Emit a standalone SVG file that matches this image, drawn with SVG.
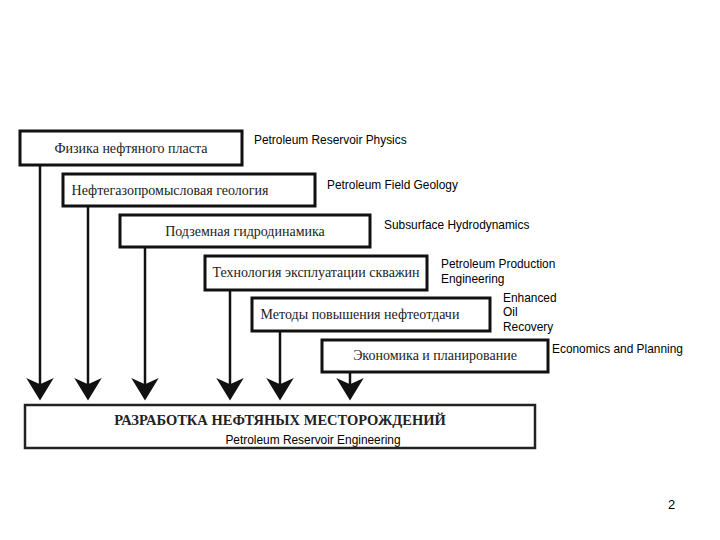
<svg xmlns="http://www.w3.org/2000/svg" width="720" height="540" viewBox="0 0 720 540">
<defs>
<style>
.box{fill:#fff;stroke:#111;stroke-width:3}
.ru{font-family:"Liberation Serif","DejaVu Serif",serif;font-size:14px;fill:#222;text-anchor:middle}
.en{font-family:"Liberation Sans",Arial,sans-serif;font-size:11.9px;fill:#000}
.ln{stroke:#111;stroke-width:2.5;fill:none}
</style>
<marker id="ah" markerWidth="9" markerHeight="11" refX="8" refY="5.5" orient="auto" markerUnits="strokeWidth">
<path d="M0,0 L9,5.5 L0,11 L2.5,5.5 Z" fill="#111"/>
</marker>
</defs>
<rect width="720" height="540" fill="#fff"/>
<g id="connectors">
<line class="ln" x1="40" y1="165" x2="40" y2="398" marker-end="url(#ah)"/>
<line class="ln" x1="88" y1="206" x2="88" y2="398" marker-end="url(#ah)"/>
<line class="ln" x1="145" y1="247" x2="145" y2="398" marker-end="url(#ah)"/>
<line class="ln" x1="230" y1="290" x2="230" y2="398" marker-end="url(#ah)"/>
<line class="ln" x1="280" y1="331" x2="280" y2="398" marker-end="url(#ah)"/>
<line class="ln" x1="350" y1="372" x2="350" y2="398" marker-end="url(#ah)"/>
</g>
<g id="n1">
<rect class="box" x="20" y="131" width="222" height="34"/>
<text class="ru" x="131" y="153">Физика нефтяного пласта</text>
<text class="en" x="254" y="144">Petroleum Reservoir Physics</text>
</g>
<g id="n2">
<rect class="box" x="63" y="174" width="252" height="32"/>
<text class="ru" x="170" y="195">Нефтегазопромысловая геология</text>
<text class="en" x="327" y="189">Petroleum Field Geology</text>
</g>
<g id="n3">
<rect class="box" x="120" y="215" width="250" height="32"/>
<text class="ru" x="245" y="236">Подземная гидродинамика</text>
<text class="en" x="384" y="229">Subsurface Hydrodynamics</text>
</g>
<g id="n4">
<rect class="box" x="205" y="256" width="222" height="34"/>
<text class="ru" x="316" y="277">Технология эксплуатации скважин</text>
<text class="en" x="441" y="268">Petroleum Production</text>
<text class="en" x="441" y="283">Engineering</text>
</g>
<g id="n5">
<rect class="box" x="252" y="298" width="238" height="33"/>
<text class="ru" x="360" y="319">Методы повышения нефтеотдачи</text>
<text class="en" x="503" y="302">Enhanced</text>
<text class="en" x="503" y="316">Oil</text>
<text class="en" x="503" y="331">Recovery</text>
</g>
<g id="n6">
<rect class="box" x="322" y="340" width="226" height="32"/>
<text class="ru" x="435" y="360">Экономика и планирование</text>
<text class="en" x="552" y="353">Economics and Planning</text>
</g>
<g id="n7">
<rect x="25" y="405" width="510" height="43" fill="#fff" stroke="#222" stroke-width="2.5"/>
<text class="ru" x="280" y="425" style="font-weight:bold;font-size:14.5px">РАЗРАБОТКА НЕФТЯНЫХ МЕСТОРОЖДЕНИЙ</text>
<text class="en" x="313" y="444" text-anchor="middle">Petroleum Reservoir Engineering</text>
</g>
<text class="en" x="668" y="509" style="font-size:13px">2</text>
</svg>
